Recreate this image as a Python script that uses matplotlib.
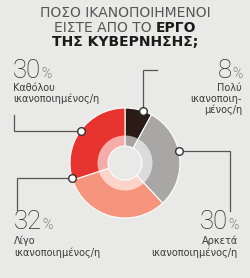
import numpy as np
import matplotlib
matplotlib.use("Agg")
import matplotlib.pyplot as plt
from matplotlib.patches import Wedge

# ---- data ----
categories = ["Πολύ\nικανοποιη-\nμένος/η", "Αρκετά\nικανοποιημένος/η",
              "Λίγο\nικανοποιημένος/η", "Καθόλου\nικανοποιημένος/η"]
values = [8, 30, 32, 30]
colors = ["#2b1b17", "#a9a7a6", "#f6957d", "#e8342f"]
title_lines = [("ΠΟΣΟ ΙΚΑΝΟΠΟΙΗΜΕΝΟΙ", ""), ("ΕΙΣΤΕ ΑΠΟ ΤΟ ", "ΕΡΓΟ"), ("", "ΤΗΣ ΚΥΒΕΡΝΗΣΗΣ;")]

W, H = 250, 278
BG = "#e9e9e8"
plt.rcParams['font.family'] = ['DejaVu Sans']
fig = plt.figure(figsize=(W / 100, H / 100), dpi=100, facecolor=BG)
ax = fig.add_axes([0, 0, 1, 1])
ax.set_facecolor(BG)

cx, cy = 125, H - 163
R, width = 55, 38
ax.pie(values, colors=colors, startangle=90, counterclock=False,
       center=(cx, cy), radius=R,
       wedgeprops=dict(width=width, edgecolor="white", linewidth=0.8))
# translucent inner ring
ax.add_patch(Wedge((cx, cy), 27.5, 0, 360, width=10.5, facecolor="white",
                   alpha=0.6, edgecolor="none", zorder=5))

ax.set_xlim(0, W)
ax.set_ylim(0, H)
ax.set_aspect("equal")
ax.axis("off")

fig.canvas.draw()
rend = fig.canvas.get_renderer()

def px_width(t):
    return t.get_window_extent(renderer=rend).width

# title
title_y = [H - 13, H - 27.5, H - 41.5]
tsize = 10
for (norm, bold), y in zip(title_lines, title_y):
    tn = ax.text(0, y, norm, fontsize=tsize, color="#555555", va="center", ha="left")
    tb = ax.text(0, y, bold, fontsize=tsize, color="#1a1a1a", fontweight="bold", va="center", ha="left")
    wn = px_width(tn) if norm else 0
    wb = px_width(tb) if bold else 0
    x0 = W / 2 - (wn + wb) / 2
    tn.set_x(x0)
    tb.set_x(x0 + wn)

# anchors: angle measured clockwise from top (degrees) for leader dots
cum = np.concatenate([[0], np.cumsum(values)]) / sum(values) * 360
mids = (cum[:-1] + cum[1:]) / 2
anchor_angles = [mids[0] + 5, mids[1] - 5, cum[3] + 2, mids[3]]

def anchor(a):
    r = np.deg2rad(a)
    return cx + R * np.sin(r), cy + R * np.cos(r)

leaders = [
    ("v", (None, H - 70), (157, H - 70)),
    ("h", (230, None), (230, H - 211)),
    ("h", (17, None), (17, H - 210)),
    ("h", (14, None), (14, H - 115)),
]
lc = "#555555"
for i, a in enumerate(anchor_angles):
    x, y = anchor(a)
    kind, corner, end = leaders[i]
    c = (x, corner[1]) if kind == "v" else (corner[0], y)
    ax.plot([x, c[0], end[0]], [y, c[1], end[1]], color=lc, lw=0.9, zorder=6,
            solid_joinstyle="miter")
    ax.plot([x], [y], marker="o", ms=5.5, mfc="white", mec="#333333", mew=1.0, zorder=7)

# (x, baseline y, ha, description top)
label_pos = [
    (242, H - 78, "right", H - 83),
    (238, H - 229, "right", H - 236),
    (14, H - 229, "left", H - 236),
    (13, H - 78, "left", H - 83),
]
numc = "#2a2a2a"
for i, (x, y, ha, dy) in enumerate(label_pos):
    num = f"{values[i]}"
    tnum = ax.text(0, y, num, fontsize=18.5, color=numc, va="baseline", ha="left",
                   family=["Roboto", "DejaVu Sans"], fontweight="light")
    tpct = ax.text(0, y, "%", fontsize=10, color=numc, va="baseline", ha="left",
                   family=["Roboto", "DejaVu Sans"], fontweight="light")
    wn, wp = px_width(tnum), px_width(tpct)
    x0 = x - (wn + wp) if ha == "right" else x
    tnum.set_x(x0)
    tpct.set_x(x0 + wn + 0.5)
    ax.text(x, dy, categories[i], fontsize=7, color="#3a3a3a", va="top", ha=ha,
            linespacing=1.1, multialignment=ha)

fig.savefig("out.png", dpi=100, facecolor=BG)
